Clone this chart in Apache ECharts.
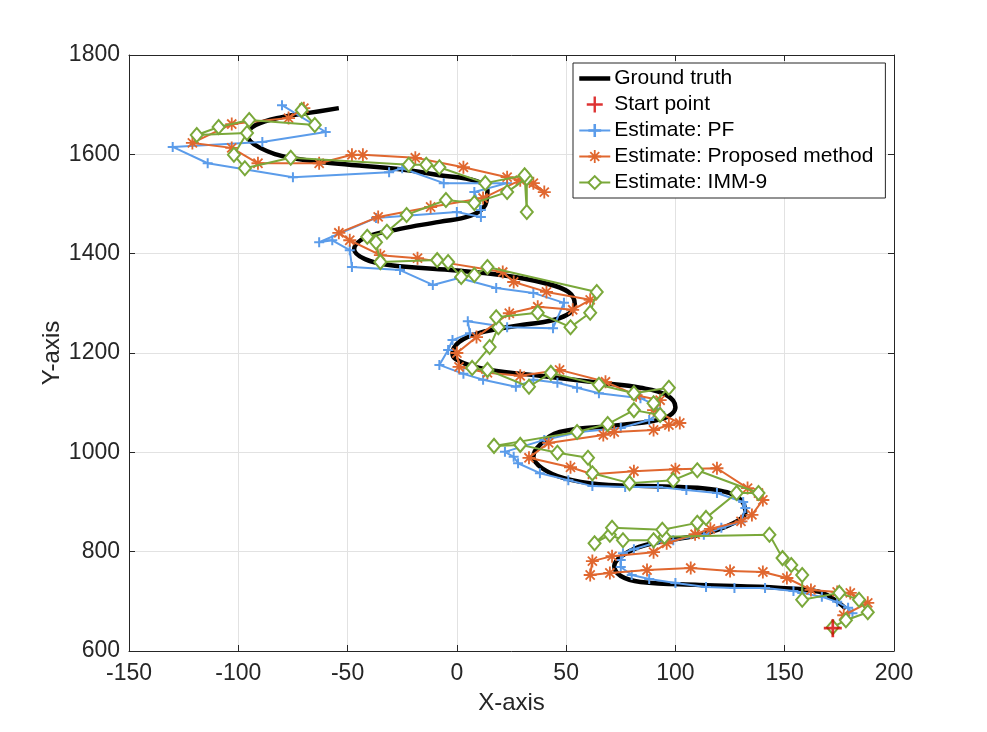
<!DOCTYPE html>
<html><head><meta charset="utf-8">
<script src="https://cdn.jsdelivr.net/npm/echarts/dist/echarts.min.js"></script>
<style>html,body{margin:0;padding:0;background:#fff}#c{width:987px;height:732px}</style>
</head><body><div id="c"></div>
<script>
// ---- data (x, y) ----
const startPoint = [[172, 646]];

const groundTruth = [
  [178,685],[166,719],[148,727],[111,733],[84,739],[75,751],[72,771],[76,793],[86,813],[111,834],
  [125,854],[132,880],[129,908],[119,924],[102,930],[65,936],[49,948],[39,968],[35,991],[38,1015],
  [47,1041],[75,1055],[95,1069],[100,1091],[96,1115],[84,1130],[65,1140],[38,1154],[15,1166],[4,1178],
  [-2,1198],[1,1222],[10,1240],[29,1256],[47,1270],[54,1297],[51,1323],[40,1341],[20,1357],[-3,1367],
  [-31,1377],[-42,1389],[-47,1409],[-42,1432],[-26,1450],[-8,1464],[6,1476],[13,1498],[14,1528],[9,1546],
  [-8,1558],[-26,1570],[-54,1581],[-76,1593],[-90,1613],[-96,1639],[-92,1659],[-80,1675],[-67,1684],[-54,1693]
];

const pfEstimate = [
  [181,676],[179,687],[174,699],[167,709],[158,717],[154,721],[141,727],[127,727],[114,729],[100,737],
  [88,745],[80,753],[75,769],[75,783],[76,797],[81,805],[90,817],[99,823],[113,834],[121,848],
  [130,860],[132,888],[131,900],[119,918],[105,924],[92,930],[77,930],[62,932],[51,944],[38,958],
  [28,978],[26,991],[22,1001],[40,1025],[56,1041],[75,1049],[88,1065],[93,1081],[91,1095],[84,1109],
  [65,1119],[55,1130],[46,1140],[35,1146],[27,1132],[12,1146],[3,1158],[-8,1176],[-4,1206],[-2,1226],
  [6,1240],[5,1264],[23,1252],[44,1250],[49,1301],[35,1321],[18,1331],[1,1351],[-11,1337],[-26,1367],
  [-48,1373],[-49,1407],[-57,1427],[-63,1423],[-37,1472],[0,1484],[11,1474],[11,1488],[8,1524],[23,1542],
  [-6,1542],[-25,1572],[-31,1564],[-75,1554],[-114,1582],[-130,1615],[-89,1625],[-60,1645],[-80,1699]
];

const proposedEstimate = [
  [177,672],[188,697],[180,717],[174,719],[162,723],[151,747],[140,759],[125,761],[107,767],[87,763],
  [70,757],[61,753],[62,781],[71,791],[90,799],[96,817],[109,835],[116,846],[130,861],[135,874],
  [140,904],[138,918],[133,928],[119,968],[100,966],[81,962],[62,956],[52,970],[33,989],[42,1019],
  [67,1035],[72,1041],[90,1045],[97,1055],[102,1059],[90,1085],[93,1105],[82,1115],[68,1142],[47,1166],
  [29,1154],[14,1160],[1,1172],[0,1200],[9,1232],[24,1280],[37,1293],[53,1287],[61,1307],[41,1323],
  [26,1343],[21,1363],[-18,1391],[-35,1397],[-49,1427],[-54,1442],[-36,1474],[-12,1494],[12,1512],[29,1548],
  [40,1524],[35,1542],[23,1554],[3,1574],[-19,1593],[-43,1599],[-48,1599],[-63,1582],[-91,1582],[-103,1613],
  [-121,1623],[-103,1661],[-77,1673],[-70,1693]
];

const immEstimate = [
  [172,648],[178,662],[188,678],[184,703],[175,717],[158,703],[158,753],[153,773],[149,787],[143,834],
  [95,830],[90,823],[76,823],[70,834],[63,817],[71,848],[94,844],[110,858],[114,868],[128,918],
  [138,918],[110,964],[99,944],[79,938],[62,958],[60,989],[46,999],[29,1015],[17,1013],[55,1041],
  [69,1057],[81,1085],[93,1075],[90,1099],[97,1130],[81,1119],[65,1136],[43,1160],[33,1132],[14,1166],
  [7,1170],[15,1212],[19,1252],[18,1272],[37,1281],[52,1252],[61,1281],[64,1323],[14,1373],[8,1357],
  [2,1353],[-4,1383],[-9,1387],[-35,1383],[-37,1423],[-41,1434],[-32,1444],[-23,1478],[-5,1508],[8,1502],
  [23,1524],[32,1552],[32,1484],[31,1558],[13,1542],[-8,1574],[-14,1579],[-22,1579],[-76,1593],[-97,1572],
  [-102,1599],[-96,1643],[-119,1639],[-109,1655],[-95,1669],[-65,1659],[-71,1689]
];

const xTicks = {min: -150, max: 200, step: 50};
const yTicks = {min: 600, max: 1800, step: 200};
const legendNames = ['Ground truth','Start point','Estimate: PF','Estimate: Proposed method','Estimate: IMM-9'];

// ---- marker shapes ----
const plusPath = 'path://M8,0 L12,0 L12,20 L8,20 Z M0,8 L20,8 L20,12 L0,12 Z';
const startPath = 'path://M8.5,0 L11.5,0 L11.5,20 L8.5,20 Z M0,8.5 L20,8.5 L20,11.5 L0,11.5 Z';
const starPath = 'path://M8.6,0 L11.4,0 L11.4,20 L8.6,20 Z M0,8.6 L20,8.6 L20,11.4 L0,11.4 Z ' +
  'M3.99,2.01 L17.99,16.01 L16.01,17.99 L2.01,3.99 Z M16.01,2.01 L17.99,3.99 L3.99,17.99 L2.01,16.01 Z';

const ink = '#262626';
const font = 'Liberation Sans, Arial, Helvetica, sans-serif';

function mainAxis(t, name, isY) {
  return {
    type: 'value', min: t.min, max: t.max, interval: t.step,
    name: name, nameLocation: 'middle', nameGap: isY ? 65 : 40, nameMoveOverlap: false,
    nameTextStyle: {fontSize: 24, color: ink, fontFamily: font, lineHeight: 24},
    axisLine: {show: true, onZero: false, lineStyle: {color: ink, width: 1}},
    axisTick: {show: true, inside: true, length: 6, lineStyle: {color: ink}},
    axisLabel: {fontSize: 23, color: ink, fontFamily: font, margin: isY ? 9 : 11,
                formatter: function (v) { return String(v); }},
    splitLine: {show: true, lineStyle: {color: '#e2e2e2', width: 1}}
  };
}
function mirrorAxis(t, pos) {
  return {
    type: 'value', min: t.min, max: t.max, interval: t.step, position: pos,
    axisLine: {show: true, onZero: false, lineStyle: {color: ink, width: 1}},
    axisTick: {show: true, inside: true, length: 6, lineStyle: {color: ink}},
    axisLabel: {show: false}, splitLine: {show: false}
  };
}

const legendData = legendNames.map(function (n, i) {
  return i === 0 ? {name: n, itemStyle: {opacity: 0}, lineStyle: {width: 4.5, color: '#000'}} : {name: n};
});

const chart = echarts.init(document.getElementById('c'));
chart.setOption({
  animation: false,
  backgroundColor: '#fff',
  textStyle: {fontFamily: font},
  grid: {left: 129, right: 93, top: 55, bottom: 81, containLabel: false},
  xAxis: [mainAxis(xTicks, 'X-axis', false), mirrorAxis(xTicks, 'top')],
  yAxis: [mainAxis(yTicks, 'Y-axis', true), mirrorAxis(yTicks, 'right')],
  legend: {
    data: legendData, orient: 'vertical', left: 573, top: 63,
    backgroundColor: '#fff', borderColor: ink, borderWidth: 1, borderRadius: 0,
    padding: [5, 12, 5, 4], itemGap: 5, itemWidth: 31, itemHeight: 16,
    textStyle: {fontSize: 21, color: '#000', fontFamily: font, lineHeight: 21, padding: [0, 0, 0, -1]}
  },
  series: [
    {name: 'Ground truth', type: 'line', data: groundTruth, symbol: 'none', smooth: 0.4,
     lineStyle: {color: '#000', width: 4.5}, itemStyle: {color: '#000'}, z: 1},
    {name: 'Estimate: PF', type: 'line', data: pfEstimate, symbol: plusPath, symbolSize: 10,
     showAllSymbol: true, lineStyle: {color: '#5b9cea', width: 2}, itemStyle: {color: '#5b9cea'}, z: 2},
    {name: 'Estimate: Proposed method', type: 'line', data: proposedEstimate, symbol: starPath, symbolSize: 13,
     showAllSymbol: true, lineStyle: {color: '#e0672f', width: 2}, itemStyle: {color: '#e0672f'}, z: 3},
    {name: 'Estimate: IMM-9', type: 'line', data: immEstimate, symbol: 'emptyDiamond', symbolSize: [12, 14],
     showAllSymbol: true, lineStyle: {color: '#7aa83a', width: 2},
     itemStyle: {color: '#7aa83a', borderColor: '#7aa83a', borderWidth: 2}, z: 4},
    {name: 'Start point', type: 'scatter', data: startPoint, symbol: startPath, symbolSize: 18,
     itemStyle: {color: '#d40000'}, z: 5}
  ]
});
</script>
</body></html>
